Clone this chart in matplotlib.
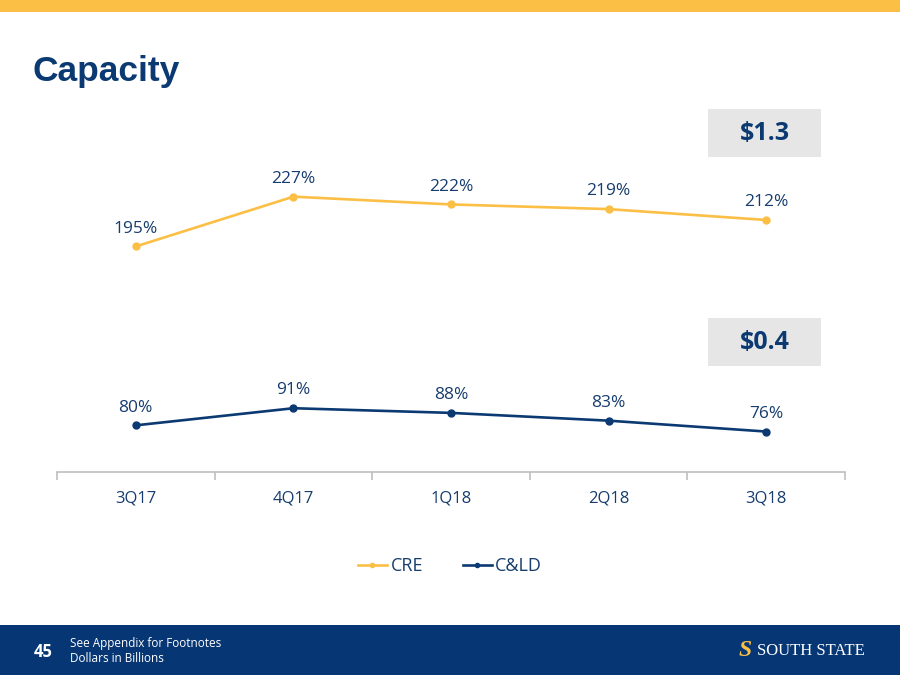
import matplotlib
matplotlib.use('Agg')
import matplotlib.pyplot as plt
from matplotlib.patches import Rectangle

# Data
quarters = ['3Q17', '4Q17', '1Q18', '2Q18', '3Q18']
cre = [195, 227, 222, 219, 212]
cld = [80, 91, 88, 83, 76]
cre_total = '$1.3'
cld_total = '$0.4'

NAVY = '#0b3a72'
GOLD = '#fbbf45'
TEXT = '#163d6e'

plt.rcParams['font.family'] = ['Open Sans', 'DejaVu Sans']

fig = plt.figure(figsize=(9, 6.75), dpi=100)

# top gold bar and footer band
fig.patches.append(Rectangle((0, 1 - 12/675), 1, 12/675, transform=fig.transFigure,
                             facecolor=GOLD, edgecolor='none', zorder=0))
fig.patches.append(Rectangle((0, 0), 1, 50/675, transform=fig.transFigure,
                             facecolor='#063673', edgecolor='none', zorder=0))

fig.text(33/900, 1 - 71/675, 'Capacity', fontsize=25.5, fontweight='bold', color=NAVY,
         family='Liberation Sans', va='center', ha='left')

ax = fig.add_axes([57/900, 1 - 472/675, 788/900, 322/675])
x = list(range(len(quarters)))
ax.plot(x, cre, color=GOLD, lw=1.9, marker='o', ms=5, label='CRE')
ax.plot(x, cld, color=NAVY, lw=1.9, marker='o', ms=5, label='C&LD')

for xi, v in zip(x, cre):
    ax.annotate(f'{v}%', (xi, v), xytext=(0, 7), textcoords='offset points',
                ha='center', va='bottom', fontsize=12.5, color=TEXT)
for xi, v in zip(x, cld):
    ax.annotate(f'{v}%', (xi, v), xytext=(0, 7), textcoords='offset points',
                ha='center', va='bottom', fontsize=12.5, color=TEXT)

ax.set_xlim(-0.5, len(quarters) - 0.5)
ax.set_ylim(50, 257)
for s in ['top', 'right', 'left']:
    ax.spines[s].set_visible(False)
ax.spines['bottom'].set_color('#bfbfbf')
ax.spines['bottom'].set_linewidth(1.2)
ax.set_yticks([])
ax.set_xticks(x)
ax.set_xticklabels(quarters, fontsize=12, color=TEXT)
ax.tick_params(axis='x', which='major', length=0, pad=13)
ax.set_xticks([i - 0.5 for i in range(len(quarters) + 1)], minor=True)
ax.tick_params(axis='x', which='minor', length=6, color='#bfbfbf', width=1.2)

# total boxes
for label, ytop in [(cre_total, 109), (cld_total, 318)]:
    fig.patches.append(Rectangle((708/900, 1 - (ytop + 48)/675), 113/900, 48/675,
                                 transform=fig.transFigure, facecolor='#e6e6e6',
                                 edgecolor='none', zorder=1))
    fig.text(765/900, 1 - (ytop + 24)/675, label, fontsize=18, fontweight='bold',
             color=NAVY, ha='center', va='center', zorder=2)

fig.legend(loc='center', bbox_to_anchor=(0.5, 1 - 566/675), ncol=2, frameon=False,
           fontsize=13, labelcolor=TEXT, handlelength=1.6, columnspacing=2.2,
           handletextpad=0.2, markerscale=0.6)

# footer texts
fig.text(34/900, 1 - 652/675, '45', fontsize=12, fontweight='bold', color='white',
         va='center', ha='left')
fig.text(70/900, 1 - 643/675, 'See Appendix for Footnotes', fontsize=8.5, color='white',
         va='center', ha='left')
fig.text(70/900, 1 - 659/675, 'Dollars in Billions', fontsize=8.5, color='white',
         va='center', ha='left')
fig.text(745/900, 1 - 651/675, 'S', fontsize=17, fontweight='bold', color=GOLD,
         family='Liberation Serif', style='italic', va='center', ha='center')
fig.text(757/900, 1 - 651/675, 'SOUTH STATE', fontsize=12, color='white',
         family='Liberation Serif', va='center', ha='left')

fig.savefig('out.png', dpi=100)
